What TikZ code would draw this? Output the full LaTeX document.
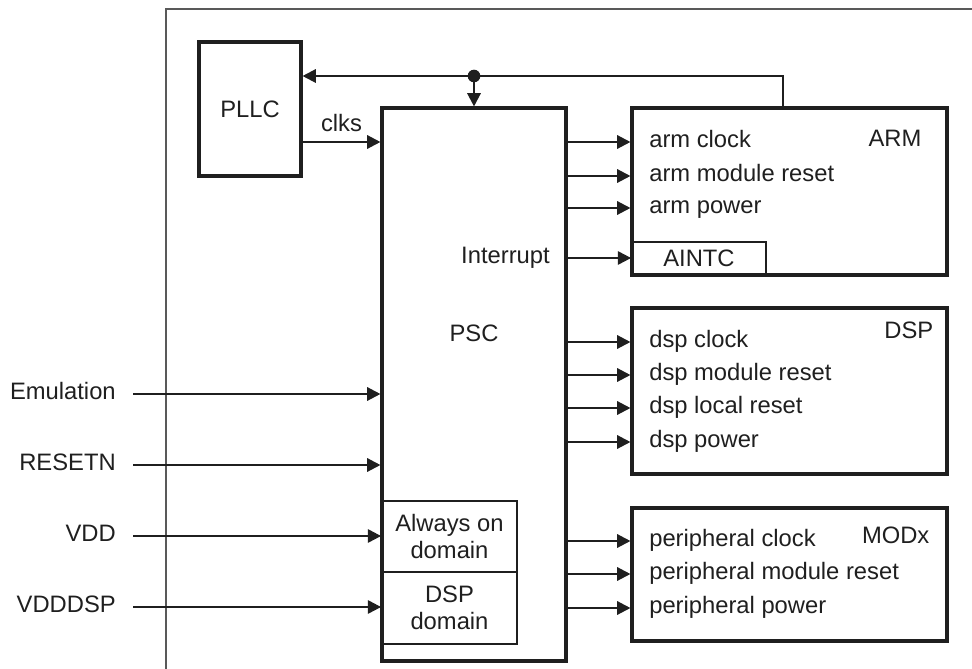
\documentclass[tikz,border=0pt]{standalone}
\usepackage{fontspec}
\setmainfont{Liberation Sans}
\usepackage{tikz}
\usetikzlibrary{arrows.meta, positioning, calc}

\begin{document}
\begin{tikzpicture}[
    x=0.025cm, y=-0.025cm,
    every node/.style={font=\fontsize{16.9}{19.5}\selectfont, text=black!88},
    block/.style={rectangle, draw=black!88, line width=2.3pt, inner sep=0pt},
    subblock/.style={rectangle, draw=black!88, line width=1.4pt, inner sep=0pt, align=center},
    sig/.style={anchor=west, inner sep=0pt, text height=0.716em, text depth=0pt},
    pin/.style={anchor=east, inner sep=0pt, text height=0.716em, text depth=0pt},
    arrow/.style={-{Triangle[length=3.3mm, width=3.4mm]}, line width=0.8pt, draw=black!88},
    wire/.style={line width=0.8pt, draw=black!88}
  ]
  \useasboundingbox (0,0) rectangle (972,669);
  % outer frame, open at the right and bottom
  \coordinate (frametl) at (166,9);
  \draw[line width=0.9pt, draw=black!65] (972,9) -- (frametl) -- (166,669);

  \node[block, minimum width=102*0.025cm, minimum height=134*0.025cm] (pllc) at (250,109) {PLLC};
  \node[block, minimum width=184*0.025cm, minimum height=553*0.025cm] (psc)  at (474,384.5) {};
  \node (psclbl) at (474,333) {PSC};
  \node[block, minimum width=315*0.025cm, minimum height=167*0.025cm] (arm)  at (789.5,191.5) {};
  \node[block, minimum width=315*0.025cm, minimum height=166*0.025cm] (dsp)  at (789.5,391) {};
  \node[block, minimum width=315*0.025cm, minimum height=133*0.025cm] (modx) at (789.5,574.5) {};

  \node[subblock, minimum width=134*0.025cm, minimum height=33*0.025cm] (aintc) at (699,258.5) {AINTC};
  \node[subblock, minimum width=135*0.025cm, minimum height=71*0.025cm] (alwayson) at (449.5,536.5) {Always on\\ domain};
  \node[subblock, minimum width=135*0.025cm, minimum height=72*0.025cm] (dspdom)   at (449.5,608)   {DSP\\ domain};

  % block names
  \node[anchor=east, inner sep=0pt] (armlbl)  at ($(arm.north east)+(-27,32)$)  {ARM};
  \node[anchor=east, inner sep=0pt] (dsplbl)  at ($(dsp.north east)+(-15,24)$)  {DSP};
  \node[anchor=east, inner sep=0pt] (modxlbl) at ($(modx.north east)+(-19,29)$) {MODx};

  % signals into the modules
  \node[sig] (armclk) at (649,142) {arm clock};
  \node[sig] (armrst) at (649,176) {arm module reset};
  \node[sig] (armpwr) at (649,208) {arm power};
  \node[sig] (dspclk) at (649,342) {dsp clock};
  \node[sig] (dsprst) at (649,375) {dsp module reset};
  \node[sig] (dsploc) at (649,408) {dsp local reset};
  \node[sig] (dsppwr) at (649,442) {dsp power};
  \node[sig] (perclk) at (649,541) {peripheral clock};
  \node[sig] (perrst) at (649,574) {peripheral module reset};
  \node[sig] (perpwr) at (649,608) {peripheral power};
  \node[pin] (intr)   at (550,258) {Interrupt};

  % external inputs
  \node[pin] (emu)    at (116,394) {Emulation};
  \node[pin] (resetn) at (116,465) {RESETN};
  \node[pin] (vdd)    at (116,536) {VDD};
  \node[pin] (vdddsp) at (116,607) {VDDDSP};

  \draw[arrow] (pllc.east |- armclk) -- node[above, inner sep=2.5mm] (clks) {clks} (psc.west |- armclk);

  \draw[arrow] (psc.east |- armclk) -- (arm.west |- armclk);
  \draw[arrow] (psc.east |- armrst) -- (arm.west |- armrst);
  \draw[arrow] (psc.east |- armpwr) -- (arm.west |- armpwr);
  \draw[arrow] (psc.east |- intr)   -- (aintc.west |- intr);
  \draw[arrow] (psc.east |- dspclk) -- (dsp.west |- dspclk);
  \draw[arrow] (psc.east |- dsprst) -- (dsp.west |- dsprst);
  \draw[arrow] (psc.east |- dsploc) -- (dsp.west |- dsploc);
  \draw[arrow] (psc.east |- dsppwr) -- (dsp.west |- dsppwr);
  \draw[arrow] (psc.east |- perclk) -- (modx.west |- perclk);
  \draw[arrow] (psc.east |- perrst) -- (modx.west |- perrst);
  \draw[arrow] (psc.east |- perpwr) -- (modx.west |- perpwr);

  \draw[arrow] ($(emu.east)+(17,0)$)    -- (psc.west |- emu);
  \draw[arrow] ($(resetn.east)+(17,0)$) -- (psc.west |- resetn);
  \draw[arrow] ($(vdd.east)+(17,0)$)    -- (alwayson.west |- vdd);
  \draw[arrow] ($(vdddsp.east)+(17,0)$) -- (dspdom.west |- vdddsp);

  % feedback from ARM back to PLLC, tapped off for PSC
  \coordinate (armtap) at (783,76);
  \coordinate (tap) at (psc.north |- armtap);
  \draw[wire] (arm.north -| armtap) -- (armtap) -- (tap);
  \draw[arrow] (tap) -- (pllc.east |- armtap);
  \draw[arrow] (tap) -- (psc.north);
  \fill[black!88] (tap) circle (6.3);
\end{tikzpicture}
\end{document}
